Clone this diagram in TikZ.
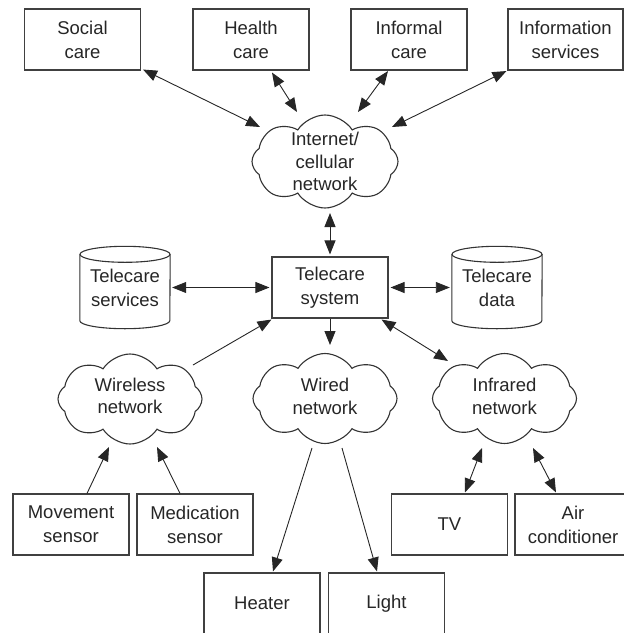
\documentclass[tikz,border=0pt]{standalone}
\usepackage{fontspec}
\setmainfont{Liberation Sans}
\usetikzlibrary{shapes.symbols,arrows.meta,calc}
\begin{document}
\begin{tikzpicture}[x=1pt,y=-1pt,
  every node/.style={font=\fontsize{18.5}{24}\selectfont, align=center, text=black!85},
  box/.style={draw=black!75, line width=1.1pt, minimum width=116pt, minimum height=61pt, inner sep=0pt},
  cyl/.style={minimum width=90pt, minimum height=82pt, inner sep=0pt},
  cylline/.style={draw=black!80, line width=1.1pt},
  netcloud/.style={cloud, cloud puffs=8, cloud puff arc=115, cloud ignores aspect, draw=black!80, line width=1.1pt, minimum width=144pt, minimum height=90pt, inner sep=0pt},
  cloudtext/.style={font=\fontsize{18.5}{22.5}\selectfont},
  link/.style={draw=black!85, line width=0.9pt, -{Triangle[length=14pt,width=11pt]}},
  dlink/.style={draw=black!85, line width=0.9pt, {Triangle[length=14pt,width=11pt]}-{Triangle[length=14pt,width=11pt]}},
]
\useasboundingbox (0,0) rectangle (624,633);

% top boxes
\node[box] (soc) at (82.5,39.5) {Social\\care};
\node[box] (hea) at (251,39.5) {Health\\care};
\node[box] (inf) at (409,39.5) {Informal\\care};
\node[box, minimum width=115pt] (isv) at (565.5,39.5) {Information\\services};

% internet cloud
\node[netcloud, minimum width=146pt, minimum height=93pt] (inet) at (325,161.5) {};
\node[cloudtext] (inettxt) at (inet.center) {Internet/\\cellular\\network};

% telecare system and cylinders
\node[box] (sys) at (330,287.5) {Telecare\\system};
\node[cyl] (tsv) at (125,287.5) {Telecare\\services};
\node[cyl] (tdt) at (497,287.5) {Telecare\\data};
\foreach \c in {tsv,tdt}{
  \draw[cylline] ($(\c.north)+(0,8)$) ellipse [x radius=45pt, y radius=8pt];
  \draw[cylline] ($(\c.north west)+(0,8)$) -- ($(\c.south west)+(0,-8)$)
     arc[start angle=180, end angle=360, x radius=45pt, y radius=8pt]
     -- ($(\c.north east)+(0,8)$);
}

% network clouds
\node[netcloud] (wls) at (130,399) {};
\node[cloudtext] (wlstxt) at ($(wls.center)+(0,-3)$) {Wireless\\network};
\node[netcloud] (wrd) at (325,398.5) {};
\node[cloudtext] (wrdtxt) at ($(wrd.center)+(0,-2)$) {Wired\\network};
\node[netcloud] (ifr) at (504.5,398.5) {};
\node[cloudtext] (ifrtxt) at ($(ifr.center)+(0,-2)$) {Infrared\\network};

% bottom boxes
\node[box] (mov) at (71,524.5) {Movement\\sensor};
\node[box] (med) at (195,524.5) {Medication\\sensor};
\node[box] (tv) at (449.5,524.5) {TV};
\node[box] (ac) at (573,524.5) {Air\\conditioner};
\node[box] (hte) at (262,603.5) {Heater};
\node[box] (lgt) at (386.5,603.5) {Light};

% connectors
\draw[dlink] ($(soc.south east)+(2,-1)$) -- ($(inet.center)+(-65,-34.5)$);
\draw[dlink] ($(hea.south)+(21,2)$) -- ($(inet.center)+(-28,-49.5)$);
\draw[dlink] ($(inf.south)+(-21,0.5)$) -- ($(inet.center)+(33,-49.5)$);
\draw[dlink] ($(isv.south west)+(-1,0.5)$) -- ($(inet.center)+(67,-34.5)$);
\draw[dlink] ($(inet.center)+(5,51.5)$) -- ($(sys.north)+(0,-2)$);
\draw[dlink] ($(tsv.east)+(2,0)$) -- ($(sys.west)+(-2,0)$);
\draw[dlink] ($(sys.east)+(2,0)$) -- ($(tdt.west)+(-2,0)$);
\draw[link] ($(wls.center)+(63,-34)$) -- ($(sys.south west)+(0,1)$);
\draw[link] (sys.south) -- ($(wrd.center)+(5,-53.5)$);
\draw[dlink] ($(sys.south east)+(-7,1)$) -- ($(ifr.center)+(-56.5,-37.5)$);
\draw[link] ($(mov.north)+(16,0)$) -- ($(wls.center)+(-21,48)$);
\draw[link] ($(med.north)+(-15,0)$) -- ($(wls.center)+(27,48)$);
\draw[link] ($(wrd.center)+(-13,49.5)$) -- ($(hte.north)+(11,-1)$);
\draw[link] ($(wrd.center)+(17,49.5)$) -- ($(lgt.north)+(-9.5,-1)$);
\draw[dlink] ($(tv.north)+(15.5,-1)$) -- ($(ifr.center)+(-22.5,49.5)$);
\draw[dlink] ($(ac.north)+(-17,-1)$) -- ($(ifr.center)+(28.5,49.5)$);
\end{tikzpicture}
\end{document}
